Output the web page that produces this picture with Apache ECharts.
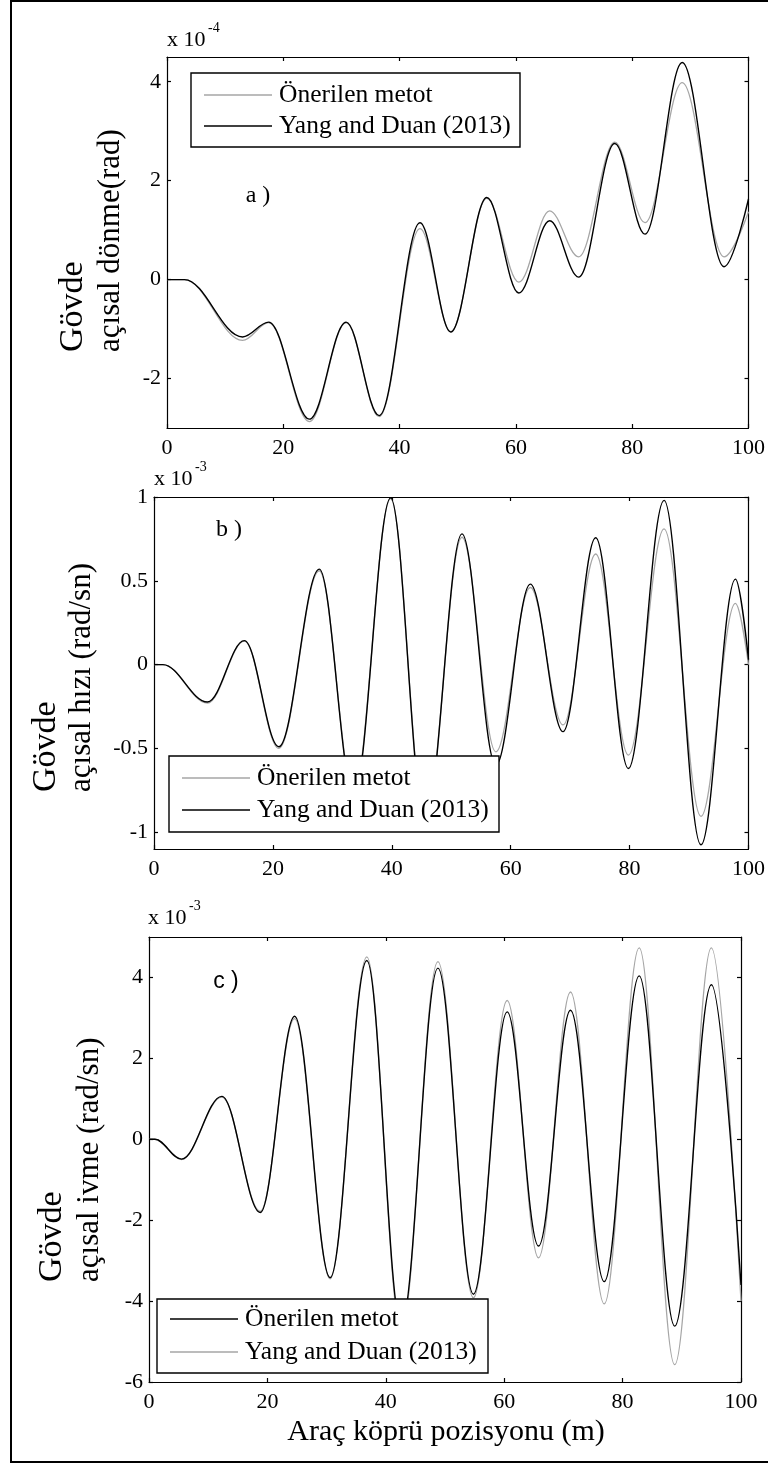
<!DOCTYPE html>
<html>
<head>
<meta charset="utf-8">
<script src="https://cdn.jsdelivr.net/npm/echarts@6/dist/echarts.min.js"></script>
<style>
  html, body { margin: 0; padding: 0; background: #fff; }
  #chart { width: 768px; height: 1463px; }
</style>
</head>
<body>
<div id="chart"></div>
<script>
// Shared x axis: vehicle position on the bridge (m)
const xTicks = [0, 20, 40, 60, 80, 100];
const legendNames = ['Önerilen metot', 'Yang and Duan (2013)'];

// Panel a: body angular rotation, x 10^-4 rad (turning points of each curve)
const aProposed = [[0,0],[3,0],[13,-1.23],[17.5,-0.87],[24.5,-2.87],[30.8,-0.87],[36.5,-2.77],[43.5,1.03],[48.8,-1.05],[55,1.64],[60.5,-0.05],[65.8,1.39],[70.8,0.46],[77,2.78],[82.2,1.15],[88.6,3.98],[95.8,0.46],[100,1.37]];
const aYangDuan = [[0,0],[3,0],[13,-1.16],[17.5,-0.86],[24.5,-2.82],[30.8,-0.86],[36.5,-2.75],[43.5,1.15],[48.8,-1.06],[55,1.66],[60.5,-0.27],[65.8,1.19],[70.8,0.05],[77,2.75],[82.2,0.92],[88.6,4.39],[95.8,0.26],[100,1.63]];
const aTicks = [-2, 0, 2, 4];

// Panel b: body angular velocity, x 10^-3 rad/sn
const bProposed = [[0,0],[1.5,0],[9,-0.23],[15.2,0.14],[21,-0.5],[27.8,0.56],[33.6,-0.76],[39.8,0.99],[45.6,-0.93],[51.8,0.76],[57.5,-0.52],[63.3,0.46],[68.8,-0.36],[74.3,0.66],[79.8,-0.54],[85.8,0.81],[92,-0.905],[97.8,0.365],[100,0.0]];
const bYangDuan = [[0,0],[1.5,0],[9,-0.223],[15.2,0.143],[21,-0.49],[27.8,0.57],[33.6,-0.78],[39.8,0.995],[45.6,-0.95],[51.8,0.78],[57.5,-0.6],[63.3,0.48],[68.8,-0.40],[74.3,0.757],[79.8,-0.62],[85.8,0.98],[92,-1.075],[97.8,0.51],[100,0.03]];
const bTicks = [-1, -0.5, 0, 0.5, 1];

// Panel c: body angular acceleration, x 10^-3 rad/sn
const cProposed = [[0,0],[1,0],[5.5,-0.49],[12.3,1.06],[18.8,-1.81],[24.6,3.04],[30.6,-3.42],[36.8,4.42],[42.6,-4.6],[48.8,4.23],[54.8,-3.83],[60.5,3.15],[65.8,-2.64],[71.2,3.19],[76.9,-3.52],[82.8,4.04],[88.8,-4.62],[95,3.82],[100,-3.6]];
const cYangDuan = [[0,0],[1,0],[5.5,-0.5],[12.3,1.04],[18.8,-1.78],[24.6,2.98],[30.6,-3.45],[36.8,4.51],[42.6,-4.75],[48.8,4.39],[54.8,-3.92],[60.5,3.43],[65.8,-2.93],[71.2,3.64],[76.9,-4.07],[82.8,4.73],[88.8,-5.57],[95,4.73],[100,-4.0]];
const cTicks = [-6, -4, -2, 0, 2, 4];

const SERIF = 'Liberation Serif';
const BLACK = '#000000';
const GREY = '#a6a6a6';

const panels = [
  { grid: { left: 167, top: 57, width: 596, height: 371 }, min: -3, max: 4.5, ticks: aTicks,
    series: [ { name: legendNames[0], data: aProposed, color: GREY }, { name: legendNames[1], data: aYangDuan, color: BLACK } ] },
  { grid: { left: 154, top: 497, width: 597, height: 352 }, min: -1.1, max: 1, ticks: bTicks,
    series: [ { name: legendNames[0], data: bProposed, color: GREY }, { name: legendNames[1], data: bYangDuan, color: BLACK } ] },
  { grid: { left: 149, top: 937, width: 592, height: 445 }, min: -6, max: 5, ticks: cTicks,
    series: [ { name: legendNames[1], data: cYangDuan, color: GREY }, { name: legendNames[0], data: cProposed, color: BLACK } ] }
];

const axisLine = { show: true, onZero: false, lineStyle: { color: BLACK, width: 1.2 } };
const tickStyle = { show: true, inside: true, length: 4, lineStyle: { color: BLACK, width: 1.2 } };
const labelStyle = { color: BLACK, fontFamily: SERIF, fontSize: 22 };

const grids = [], xAxes = [], yAxes = [], series = [];
panels.forEach((p, i) => {
  grids.push(Object.assign({ containLabel: false }, p.grid));
  xAxes.push({ gridIndex: i, type: 'value', min: 0, max: 100, interval: 20, position: 'bottom',
    axisLine, axisTick: tickStyle, splitLine: { show: false },
    axisLabel: Object.assign({ margin: 9, customValues: xTicks }, labelStyle) });
  xAxes.push({ gridIndex: i, type: 'value', min: 0, max: 100, interval: 20, position: 'top',
    axisLine, axisTick: tickStyle, splitLine: { show: false }, axisLabel: { show: false } });
  yAxes.push({ gridIndex: i, type: 'value', min: p.min, max: p.max, position: 'left',
    axisLine, splitLine: { show: false },
    axisTick: Object.assign({ customValues: p.ticks }, tickStyle),
    axisLabel: Object.assign({ margin: 6, customValues: p.ticks }, labelStyle) });
  yAxes.push({ gridIndex: i, type: 'value', min: p.min, max: p.max, position: 'right',
    axisLine, splitLine: { show: false },
    axisTick: Object.assign({ customValues: p.ticks }, tickStyle),
    axisLabel: { show: false } });
  p.series.forEach(s => {
    series.push({ type: 'line', name: s.name, xAxisIndex: 2 * i, yAxisIndex: 2 * i,
      data: s.data, showSymbol: false, smooth: 0.36, smoothMonotone: 'x',
      lineStyle: { color: s.color, width: s.color === BLACK ? 1.4 : 1.3 }, itemStyle: { color: s.color },
      animation: false, silent: true, clip: true, z: 2 });
  });
});

// Legend box drawn over the curves
function legendBox(x, y, w, h, rows) {
  const out = [{ type: 'rect', z: 100, shape: { x, y, width: w, height: h },
    style: { fill: '#fff', stroke: BLACK, lineWidth: 1.4 } }];
  rows.forEach(r => {
    out.push({ type: 'line', z: 101, shape: { x1: x + 13, y1: y + r.dy, x2: x + 81, y2: y + r.dy },
      style: { stroke: r.color, lineWidth: 1.3 } });
    out.push({ type: 'text', z: 101, x: x + 88, y: y + r.dy,
      style: { text: r.name, fill: BLACK, font: '25.5px ' + SERIF, textAlign: 'left', textVerticalAlign: 'middle' } });
  });
  return out;
}

function exponent(x, y, power) {
  return [
    { type: 'text', x, y, z: 50, style: { text: 'x 10', fill: BLACK, font: '22px ' + SERIF, textAlign: 'left', textVerticalAlign: 'middle' } },
    { type: 'text', x: x + 41, y: y - 12, z: 50, style: { text: power, fill: BLACK, font: '14px ' + SERIF, textAlign: 'left', textVerticalAlign: 'middle' } }
  ];
}

function yTitle(x1, x2, yBottom, line1, line2) {
  return [
    { type: 'text', x: x1, y: yBottom, rotation: Math.PI / 2, z: 50,
      style: { text: line1, fill: BLACK, font: '34px ' + SERIF, textAlign: 'left', textVerticalAlign: 'middle' } },
    { type: 'text', x: x2, y: yBottom, rotation: Math.PI / 2, z: 50,
      style: { text: line2, fill: BLACK, font: '31px ' + SERIF, textAlign: 'left', textVerticalAlign: 'middle' } }
  ];
}

const graphic = [
  { type: 'rect', shape: { x: 11, y: 1, width: 800, height: 1461 }, z: 0,
    style: { fill: 'none', stroke: BLACK, lineWidth: 2 } },
  ...exponent(167, 40, '-4'),
  ...exponent(154, 479, '-3'),
  ...exponent(148, 918, '-3'),
  ...yTitle(73, 111, 352, 'Gövde', 'açısal dönme(rad)'),
  ...yTitle(46, 82, 792, 'Gövde', 'açısal hızı (rad/sn)'),
  ...yTitle(52, 90, 1282, 'Gövde', 'açısal ivme (rad/sn)'),
  { type: 'text', x: 258, y: 196, z: 50, style: { text: 'a )', fill: BLACK, font: '24px ' + SERIF, textAlign: 'center', textVerticalAlign: 'middle' } },
  { type: 'text', x: 229, y: 530, z: 50, style: { text: 'b )', fill: BLACK, font: '24px ' + SERIF, textAlign: 'center', textVerticalAlign: 'middle' } },
  { type: 'text', x: 226, y: 982, z: 50, style: { text: 'c )', fill: BLACK, font: '23px Liberation Sans', textAlign: 'center', textVerticalAlign: 'middle' } },
  { type: 'text', x: 446, y: 1432, z: 50, style: { text: 'Araç köprü pozisyonu (m)', fill: BLACK, font: '30px ' + SERIF, textAlign: 'center', textVerticalAlign: 'middle' } },
  ...legendBox(191, 73, 329, 74, [ { name: legendNames[0], color: GREY, dy: 22 }, { name: legendNames[1], color: BLACK, dy: 53 } ]),
  ...legendBox(169, 756, 330, 76, [ { name: legendNames[0], color: GREY, dy: 22 }, { name: legendNames[1], color: BLACK, dy: 54 } ]),
  ...legendBox(157, 1299, 331, 74, [ { name: legendNames[0], color: BLACK, dy: 20 }, { name: legendNames[1], color: GREY, dy: 53 } ])
];

const chart = echarts.init(document.getElementById('chart'), null, { renderer: 'canvas' });
chart.setOption({
  backgroundColor: '#ffffff',
  animation: false,
  grid: grids,
  xAxis: xAxes,
  yAxis: yAxes,
  series,
  graphic
});
</script>
</body>
</html>
